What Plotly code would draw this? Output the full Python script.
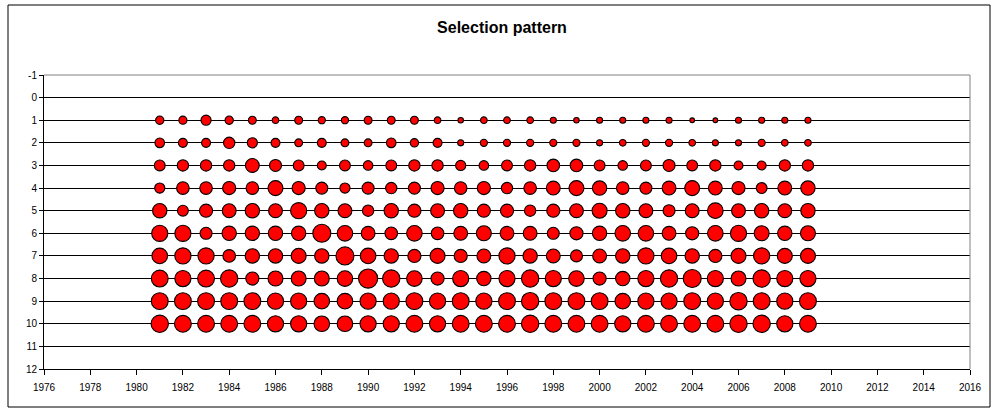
import plotly.graph_objects as go

years = list(range(1981, 2010))
ages = list(range(1, 11))

sel_age1 = [.19, .18, .28, .19, .17, .12, .17, .14, .14, .17, .17, .17, .12, .08, .12, .12, .12, .10, .08, .10, .10, .10, .10, .06, .06, .10, .10, .10, .10]
sel_age2 = [.25, .22, .22, .35, .28, .22, .17, .22, .17, .17, .25, .19, .22, .10, .14, .14, .14, .14, .14, .10, .12, .14, .14, .12, .10, .10, .14, .12, .12]
sel_age3 = [.32, .35, .35, .35, .52, .39, .32, .22, .32, .25, .32, .35, .35, .28, .25, .32, .35, .43, .43, .32, .25, .32, .39, .32, .35, .22, .22, .35, .35]
sel_age4 = [.28, .43, .43, .47, .43, .61, .47, .39, .28, .39, .35, .39, .47, .43, .47, .35, .43, .52, .61, .56, .43, .39, .52, .61, .52, .47, .32, .52, .56]
sel_age5 = [.56, .32, .47, .52, .56, .52, .71, .56, .52, .35, .56, .47, .52, .56, .47, .47, .35, .47, .52, .61, .56, .52, .39, .52, .66, .52, .56, .52, .56]
sel_age6 = [.71, .71, .39, .56, .56, .56, .56, .88, .66, .52, .43, .66, .43, .52, .61, .52, .52, .39, .47, .56, .66, .66, .52, .47, .66, .71, .61, .56, .61]
sel_age7 = [.66, .71, .71, .43, .56, .56, .61, .56, .88, .66, .56, .47, .61, .47, .52, .71, .56, .52, .39, .52, .56, .71, .66, .56, .47, .61, .71, .61, .61]
sel_age8 = [.77, .71, .77, .82, .47, .61, .61, .61, .66, 1.0, .82, .66, .47, .71, .56, .71, .82, .71, .66, .47, .56, .71, .82, .88, .71, .61, .82, .71, .71]
sel_age9 = [.77, .77, .77, .77, .77, .71, .71, .66, .66, .71, .71, .77, .71, .77, .71, .77, .82, .77, .77, .77, .66, .71, .71, .77, .71, .82, .77, .71, .77]
sel_age10 = [.82, .77, .77, .77, .77, .71, .71, .66, .66, .71, .71, .77, .71, .77, .77, .77, .82, .77, .77, .77, .71, .77, .77, .77, .77, .82, .82, .71, .77]

selectivity = [sel_age1, sel_age2, sel_age3, sel_age4, sel_age5,
               sel_age6, sel_age7, sel_age8, sel_age9, sel_age10]

x_ticks = list(range(1976, 2017, 2))
y_ticks = list(range(-1, 13))

xs, ys, ss = [], [], []
for age, row in zip(ages, selectivity):
    for yr, v in zip(years, row):
        xs.append(yr)
        ys.append(age)
        ss.append(v)

D_MAX = 19.2
sizeref = 2.0 * max(ss) / (D_MAX ** 2)

FONT = "Liberation Sans, Arial, sans-serif"

fig = go.Figure(go.Scatter(
    x=xs, y=ys, mode="markers",
    marker=dict(size=ss, sizemode="area", sizeref=sizeref, sizemin=1,
                color="#FF0000", opacity=1, line=dict(color="black", width=1.1)),
    hoverinfo="x+y+text", text=[str(s) for s in ss],
))

fig.update_layout(
    width=998, height=410,
    margin=dict(l=44, r=28, t=75, b=41),
    paper_bgcolor="white", plot_bgcolor="white",
    showlegend=False,
    font=dict(family=FONT, size=10, color="black"),
    title=dict(text="<b>Selection pattern</b>", x=0.503, xanchor="center",
               y=(410 - 27) / 410, yanchor="middle", yref="container",
               font=dict(family=FONT, size=16, color="black")),
    xaxis=dict(range=[1976, 2016], tickvals=x_ticks, ticktext=[str(t) for t in x_ticks],
               showgrid=False, zeroline=False, showline=True, linecolor="black", linewidth=1,
               ticks="outside", ticklen=5, tickcolor="black", tickwidth=1,
               ticklabelstandoff=4,
               tickfont=dict(family=FONT, size=10, color="black")),
    yaxis=dict(range=[12, -1], tickvals=y_ticks, ticktext=[str(t) for t in y_ticks],
               showgrid=True, gridcolor="black", gridwidth=1, zeroline=False,
               showline=True, linecolor="black", linewidth=1,
               ticks="outside", ticklen=4, tickcolor="black", tickwidth=1,
               tickfont=dict(family=FONT, size=10, color="black")),
    shapes=[
        dict(type="line", xref="paper", yref="paper", x0=0, x1=1, y0=1, y1=1,
             line=dict(color="#808080", width=1), layer="above"),
        dict(type="line", xref="paper", yref="paper", x0=1, x1=1, y0=0, y1=1,
             line=dict(color="#808080", width=1), layer="above"),
        dict(type="rect", xref="paper", yref="paper",
             x0=(8 - 44) / 926, x1=(990 - 44) / 926,
             y0=(369 - 407) / 294, y1=(369 - 5) / 294,
             line=dict(color="black", width=1), layer="above"),
    ],
)

fig.write_html("out.html", config={"displayModeBar": False},
               post_script="document.body.style.margin='0';document.body.style.padding='0';")
